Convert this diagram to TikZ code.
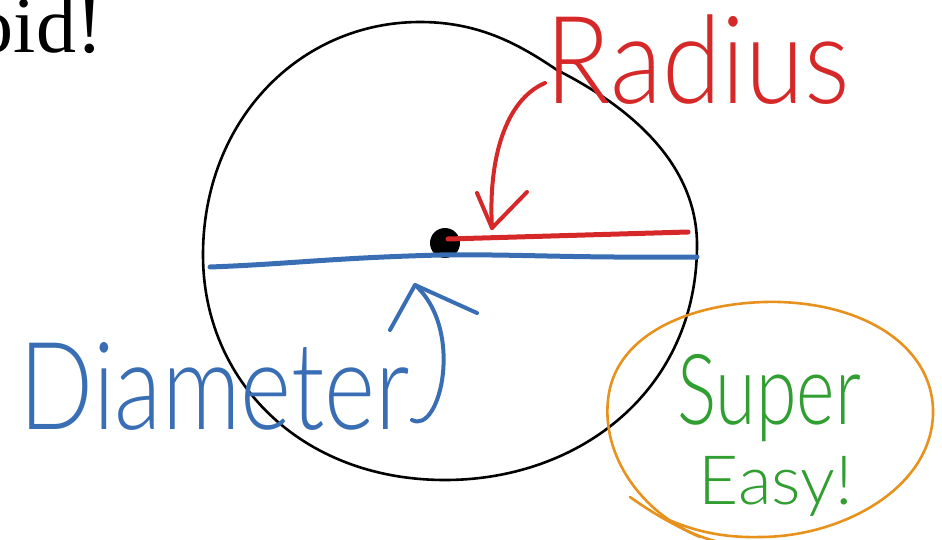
\documentclass[tikz,border=0pt]{standalone}
\usepackage{fontspec}
\setmainfont{Liberation Serif}
\newfontfamily\handfont{Lato Light}
\definecolor{penred}{RGB}{214,40,40}
\definecolor{penblue}{RGB}{58,110,180}
\definecolor{pengreen}{RGB}{48,158,48}
\definecolor{penorange}{RGB}{232,146,30}
\tikzset{
  pen/.style={line cap=round,line join=round},
  ink/.style={pen,line width=2.6pt},
  marker/.style={pen,line width=5pt},
  scrawl/.style={inner sep=0pt,font=\handfont}
}
\begin{document}
\begin{tikzpicture}[x=1pt,y=-1pt]
\useasboundingbox (0,0) rectangle (942,540);
\clip (0,0) rectangle (942,540);

% heading, cut off at the left
\node[anchor=base east,inner sep=0pt,font=\fontsize{80}{82}\selectfont] (title) at (103,53) {oid!};

% the circle, drawn by hand
\draw[ink] (557,70) .. controls (640,112) and (697,170) .. (697,245)
      .. controls (697,390) and (580,480) .. (445,480)
      .. controls (300,480) and (203,380) .. (203,255)
      .. controls (203,120) and (300,22) .. (420,22)
      .. controls (480,22) and (520,45) .. (557,70);
\coordinate (centre) at (445,243);
\fill (centre) circle (15);

% diameter and radius
\coordinate (diamL) at (210,267);
\coordinate (diamR) at (697,257);
\draw[marker,penblue] (diamL) .. controls (290,264) and (330,258) .. (440,255)
      .. controls (520,254) and (560,258) .. (diamR);
\coordinate (radS) at (448,239);
\coordinate (radE) at (688,232);
\draw[marker,penred] (radS) -- (radE);

% labels
\node[scrawl,text=penred,font=\handfont\fontsize{122}{124}\selectfont,xscale=0.88] (radius) at (698,60) {Radius};
\node[scrawl,text=penblue,font=\handfont\fontsize{122}{124}\selectfont,xscale=0.8] (diameter) at (215,386) {Diameter};
\node[scrawl,anchor=base,text=pengreen,font=\handfont\fontsize{98}{100}\selectfont,xscale=0.75] (super) at (769,424) {Super};
\node[scrawl,anchor=base,text=pengreen,font=\handfont\fontsize{68}{70}\selectfont,xscale=1.02] (easy) at (776,504) {Easy!};

% arrow to the radius
\coordinate (radfrom) at (545,83);
\coordinate (radtip) at (492,228);
\draw[ink,line width=4pt,penred] (radfrom) .. controls (505,100) and (488,160) .. (radtip);
\draw[ink,line width=4pt,penred] (477,193) -- (radtip) -- (527,192);

% arrow to the diameter
\coordinate (diamfrom) at (412,420);
\coordinate (diamtip) at (415,285);
\draw[ink,line width=4pt,penblue] (diamfrom) .. controls (440,435) and (465,330) .. (diamtip);
\draw[ink,line width=4pt,penblue] (390,330) -- (diamtip) -- (477,313);

% ring round the note
\draw[ink,penorange] (630,497) .. controls (655,515) and (690,535) .. (715,541);
\draw[ink,penorange] (700,537) .. controls (640,512) and (602,455) .. (608,400)
      .. controls (615,330) and (700,300) .. (780,302)
      .. controls (870,305) and (935,350) .. (933,415)
      .. controls (930,490) and (840,537) .. (760,537)
      .. controls (720,538) and (690,530) .. (660,516);
\end{tikzpicture}
\end{document}
